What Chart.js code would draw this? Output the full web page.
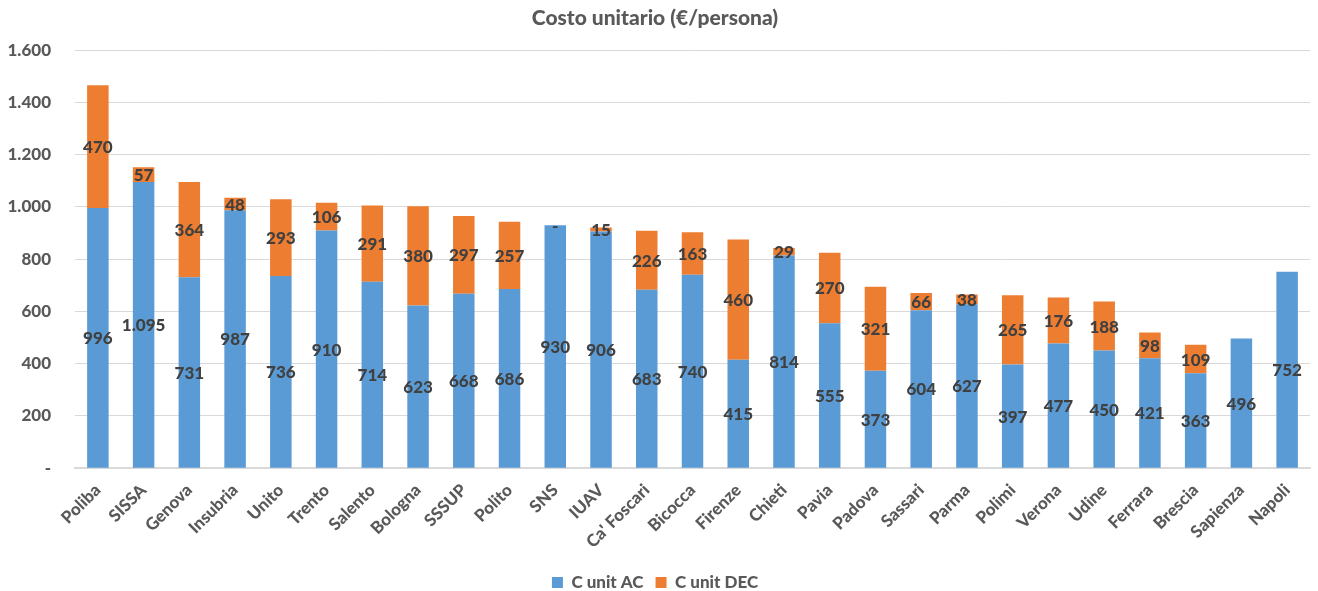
<!DOCTYPE html>
<html>
<head>
<meta charset="utf-8">
<script src="https://cdn.jsdelivr.net/npm/chart.js@4/dist/chart.umd.min.js"></script>
<style>
html,body{margin:0;padding:0;background:#fff;}
#wrap{width:1318px;height:591px;position:relative;}
</style>
</head>
<body>
<div id="wrap"><canvas id="c" width="1318" height="591"></canvas></div>
<script>
const categories = ["Poliba","SISSA","Genova","Insubria","Unito","Trento","Salento","Bologna","SSSUP","Polito","SNS","IUAV","Ca' Foscari","Bicocca","Firenze","Chieti","Pavia","Padova","Sassari","Parma","Polimi","Verona","Udine","Ferrara","Brescia","Sapienza","Napoli"];
const cUnitAC = [996,1095,731,987,736,910,714,623,668,686,930,906,683,740,415,814,555,373,604,627,397,477,450,421,363,496,752];
const cUnitDEC = [470,57,364,48,293,106,291,380,297,257,0,15,226,163,460,29,270,321,66,38,265,176,188,98,109,null,null];
const yTicks = [0,200,400,600,800,1000,1200,1400,1600];

const FONT = "Lato, 'Open Sans', sans-serif";
const W = '900';
function fmt(v){
  if (v === 0) return "-";
  return Math.round(v).toString().replace(/\B(?=(\d{3})+(?!\d))/g, ".");
}

const labelPlugin = {
  id: 'barLabels',
  afterDatasetsDraw(chart){
    const ctx = chart.ctx;
    ctx.save();
    ctx.font = W + " 17px " + FONT;
    ctx.fillStyle = "#404040";
    ctx.textAlign = "center";
    ctx.textBaseline = "middle";
    chart.data.datasets.forEach((ds, di) => {
      const meta = chart.getDatasetMeta(di);
      meta.data.forEach((bar, i) => {
        const v = ds.data[i];
        if (v === null || v === undefined) return;
        const p = bar.getProps(['x','y','base'], true);
        const cy = (p.y + p.base) / 2;
        ctx.fillText(fmt(v), p.x, cy + 1);
      });
    });
    ctx.restore();
  }
};

new Chart(document.getElementById('c'), {
  type: 'bar',
  data: {
    labels: categories,
    datasets: [
      {label: 'C unit AC', data: cUnitAC, backgroundColor: '#5B9BD5', borderWidth: 0, categoryPercentage: 1, barPercentage: 0.47},
      {label: 'C unit DEC', data: cUnitDEC, backgroundColor: '#ED7D31', borderWidth: 0, categoryPercentage: 1, barPercentage: 0.47}
    ]
  },
  options: {
    responsive: false,
    animation: false,
    devicePixelRatio: 1,
    layout: {padding: {left: 0, right: 8, top: 6, bottom: -10}},
    plugins: {
      title: {display: true, text: 'Costo unitario (€/persona)', color: '#595959', font: {family: FONT, size: 21, weight: W}, padding: {top: 0, bottom: 19}},
      legend: {position: 'bottom', labels: {color: '#595959', font: {family: FONT, size: 17, weight: W}, boxWidth: 11, boxHeight: 11, padding: 12}},
      tooltip: {enabled: false}
    },
    scales: {
      x: {
        stacked: true,
        grid: {display: false},
        border: {color: '#d9d9d9', width: 2},
        afterFit(axis){ axis.height += 6; },
        ticks: {color: '#595959', font: {family: FONT, size: 17, weight: W}, minRotation: 45, maxRotation: 45, padding: 4, autoSkip: false}
      },
      y: {
        stacked: true,
        min: 0, max: 1600,
        afterBuildTicks(axis){ axis.ticks = yTicks.map(v => ({value: v})); },
        afterFit(axis){ axis.width = 75; },
        grid: {color: '#d9d9d9', lineWidth: 1, drawTicks: false},
        border: {display: false},
        ticks: {color: '#595959', font: {family: FONT, size: 17, weight: W}, padding: 24, callback: v => fmt(v)}
      }
    }
  },
  plugins: [labelPlugin]
});
</script>
</body>
</html>
